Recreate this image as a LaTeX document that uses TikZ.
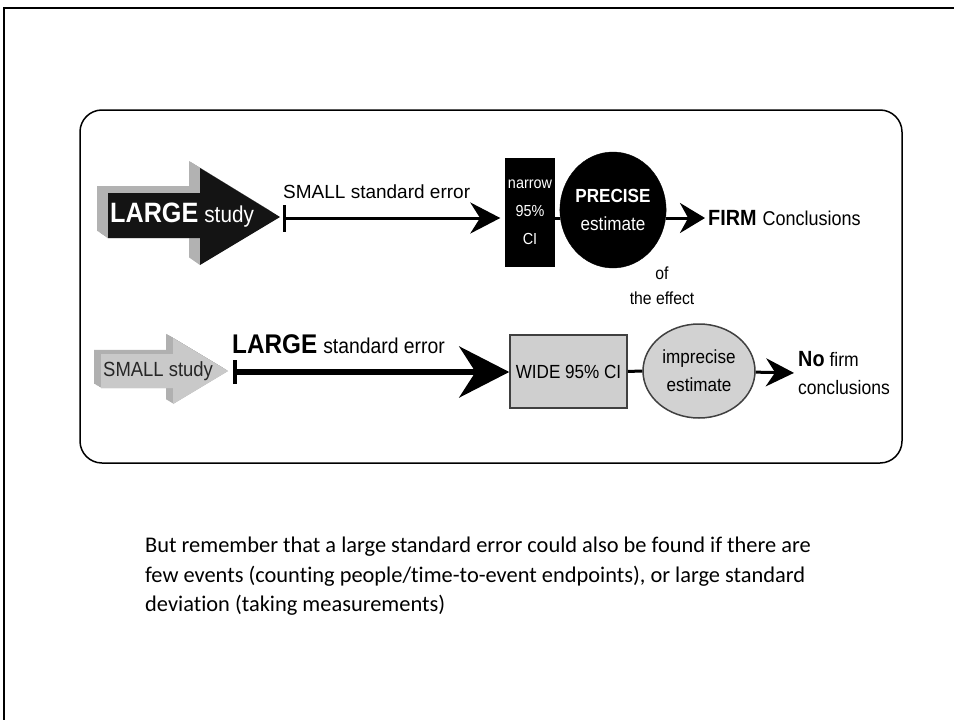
\documentclass[tikz,border=0pt]{standalone}
\usepackage{fontspec}
\setmainfont{Liberation Sans}[FakeStretch=0.9]
\newfontfamily\plainsans{Liberation Sans}
\newfontfamily\notefont{Carlito}[Ligatures=NoCommon]
\usetikzlibrary{arrows.meta,shapes.geometric}
\newcommand{\fsz}[1]{\fontsize{#1}{#1}\selectfont}

\begin{document}
\begin{tikzpicture}[x=1pt, y=-1pt, >=Stealth,
    ci/.style={draw, rectangle, inner sep=0pt, align=center},
    est/.style={draw, ellipse, inner sep=0pt, align=center},
    link/.style={line width=3pt},
    lbl/.style={inner sep=0pt}]
    \useasboundingbox (0,0) rectangle (954,720);
    % slide frame and panel
    \draw[line width=2pt] (4,722) -- (4,8) -- (956,8);
    \draw[line width=1.5pt, rounded corners=22pt] (80,110) rectangle (902,463);
    % LARGE study arrow
    \foreach \d in {0,...,10}
        \fill[gray!60, shift={(\d-11,0.7*\d-7)}] (108,193) -- (200,193) -- (200,168) -- (280,217)
            -- (200,265) -- (200,238) -- (108,238) -- cycle;
    \fill[black!92] (108,193) -- (200,193) -- (200,168) -- (280,217)
        -- (200,265) -- (200,238) -- (108,238) -- cycle;
    \node[lbl, text=white, anchor=base west] (bigstudy) at (110,222)
        {{\fsz{28}\bfseries LARGE}\hspace{6pt}{\fsz{23}study}};
    \coordinate (bigtip) at (283,218);
    \node[ci, fill=black, text=white, minimum width=49pt, minimum height=108pt,
        font=\fontsize{16}{28}\selectfont] (narrow) at (530,212) {narrow\\95\%\\CI};
    \node[est, fill=black, text=white, minimum width=90pt, minimum height=116pt,
        font=\fontsize{19}{28}\selectfont] (precise) at (613,210) {{\bfseries PRECISE}\\estimate};
    \node[lbl, anchor=west] (firm) at (708,218) {{\fsz{22}\bfseries FIRM}\hspace{6pt}{\fsz{20}Conclusions}};
    \node[lbl, align=center, font=\fontsize{17.5}{25}\selectfont] (effect) at (662,286) {of\\the effect};
    \node[lbl, anchor=base west] (smallse) at (283,198) {\plainsans\fsz{19}SMALL standard error};
    \draw[link, {Bar[width=27pt]}-{Stealth[length=30pt,width=31pt]}, shorten >=5pt]
        (bigtip) -- (bigtip -| narrow.west);
    \draw[link] (narrow.east |- bigtip) -- (precise.west |- bigtip);
    \draw[link, -{Stealth[length=25pt,width=30pt]}, shorten >=3pt]
        (precise.east |- bigtip) -- (firm.west);
    % SMALL study arrow
    \foreach \d in {0,...,7}
        \fill[gray!62, shift={(\d-7,0.6*\d-4.2)}] (101,354) -- (173,354) -- (173,338) -- (228,371)
            -- (173,404) -- (173,388) -- (101,388) -- cycle;
    \fill[gray!42] (101,354) -- (173,354) -- (173,338) -- (228,371)
        -- (173,404) -- (173,388) -- (101,388) -- cycle;
    \node[lbl, anchor=west, text=black!85] (smallstudy) at (103,371) {\fsz{20.5}SMALL study};
    \coordinate (smalltip) at (233,372);
    \node[ci, fill=gray!38, draw=black!75, line width=1.5pt, minimum width=117pt,
        minimum height=73pt] (wide) at (568.5,371.5) {\fsz{19}WIDE 95\% CI};
    \node[est, fill=gray!35, draw=black!75, line width=1.5pt, minimum width=112pt,
        minimum height=94pt, font=\fontsize{19}{28}\selectfont] (imprecise) at (699,371)
        {imprecise\\estimate};
    \node[lbl, anchor=west, align=left, font=\fontsize{19.5}{28}\selectfont] (nofirm) at (798,373)
        {{\fsz{22}\bfseries No}\hspace{5pt}firm\\conclusions};
    \node[lbl, anchor=base west] (largese) at (232,353) {{\fsz{27}\bfseries LARGE}\hspace{6pt}{\fsz{21.5}standard error}};
    \draw[line width=6pt, {Bar[width=24pt,line width=4pt]}-{Stealth[length=50pt,width=51pt]}]
        (smalltip) -- (smalltip -| wide.west);
    \draw[link] (wide) -- (imprecise);
    \draw[link, -{Stealth[length=28pt,width=28pt]}, shorten >=4pt] (imprecise) -- (nofirm.west);
    % note
    \node[lbl, anchor=north west, align=left, font=\notefont\fontsize{22.4}{29.5}\selectfont] (note) at (145,537)
        {But remember that a large standard error could also be found if there are\\
         few events (counting people/time-to-event endpoints), or large standard\\
         deviation (taking measurements)};
\end{tikzpicture}
\end{document}
